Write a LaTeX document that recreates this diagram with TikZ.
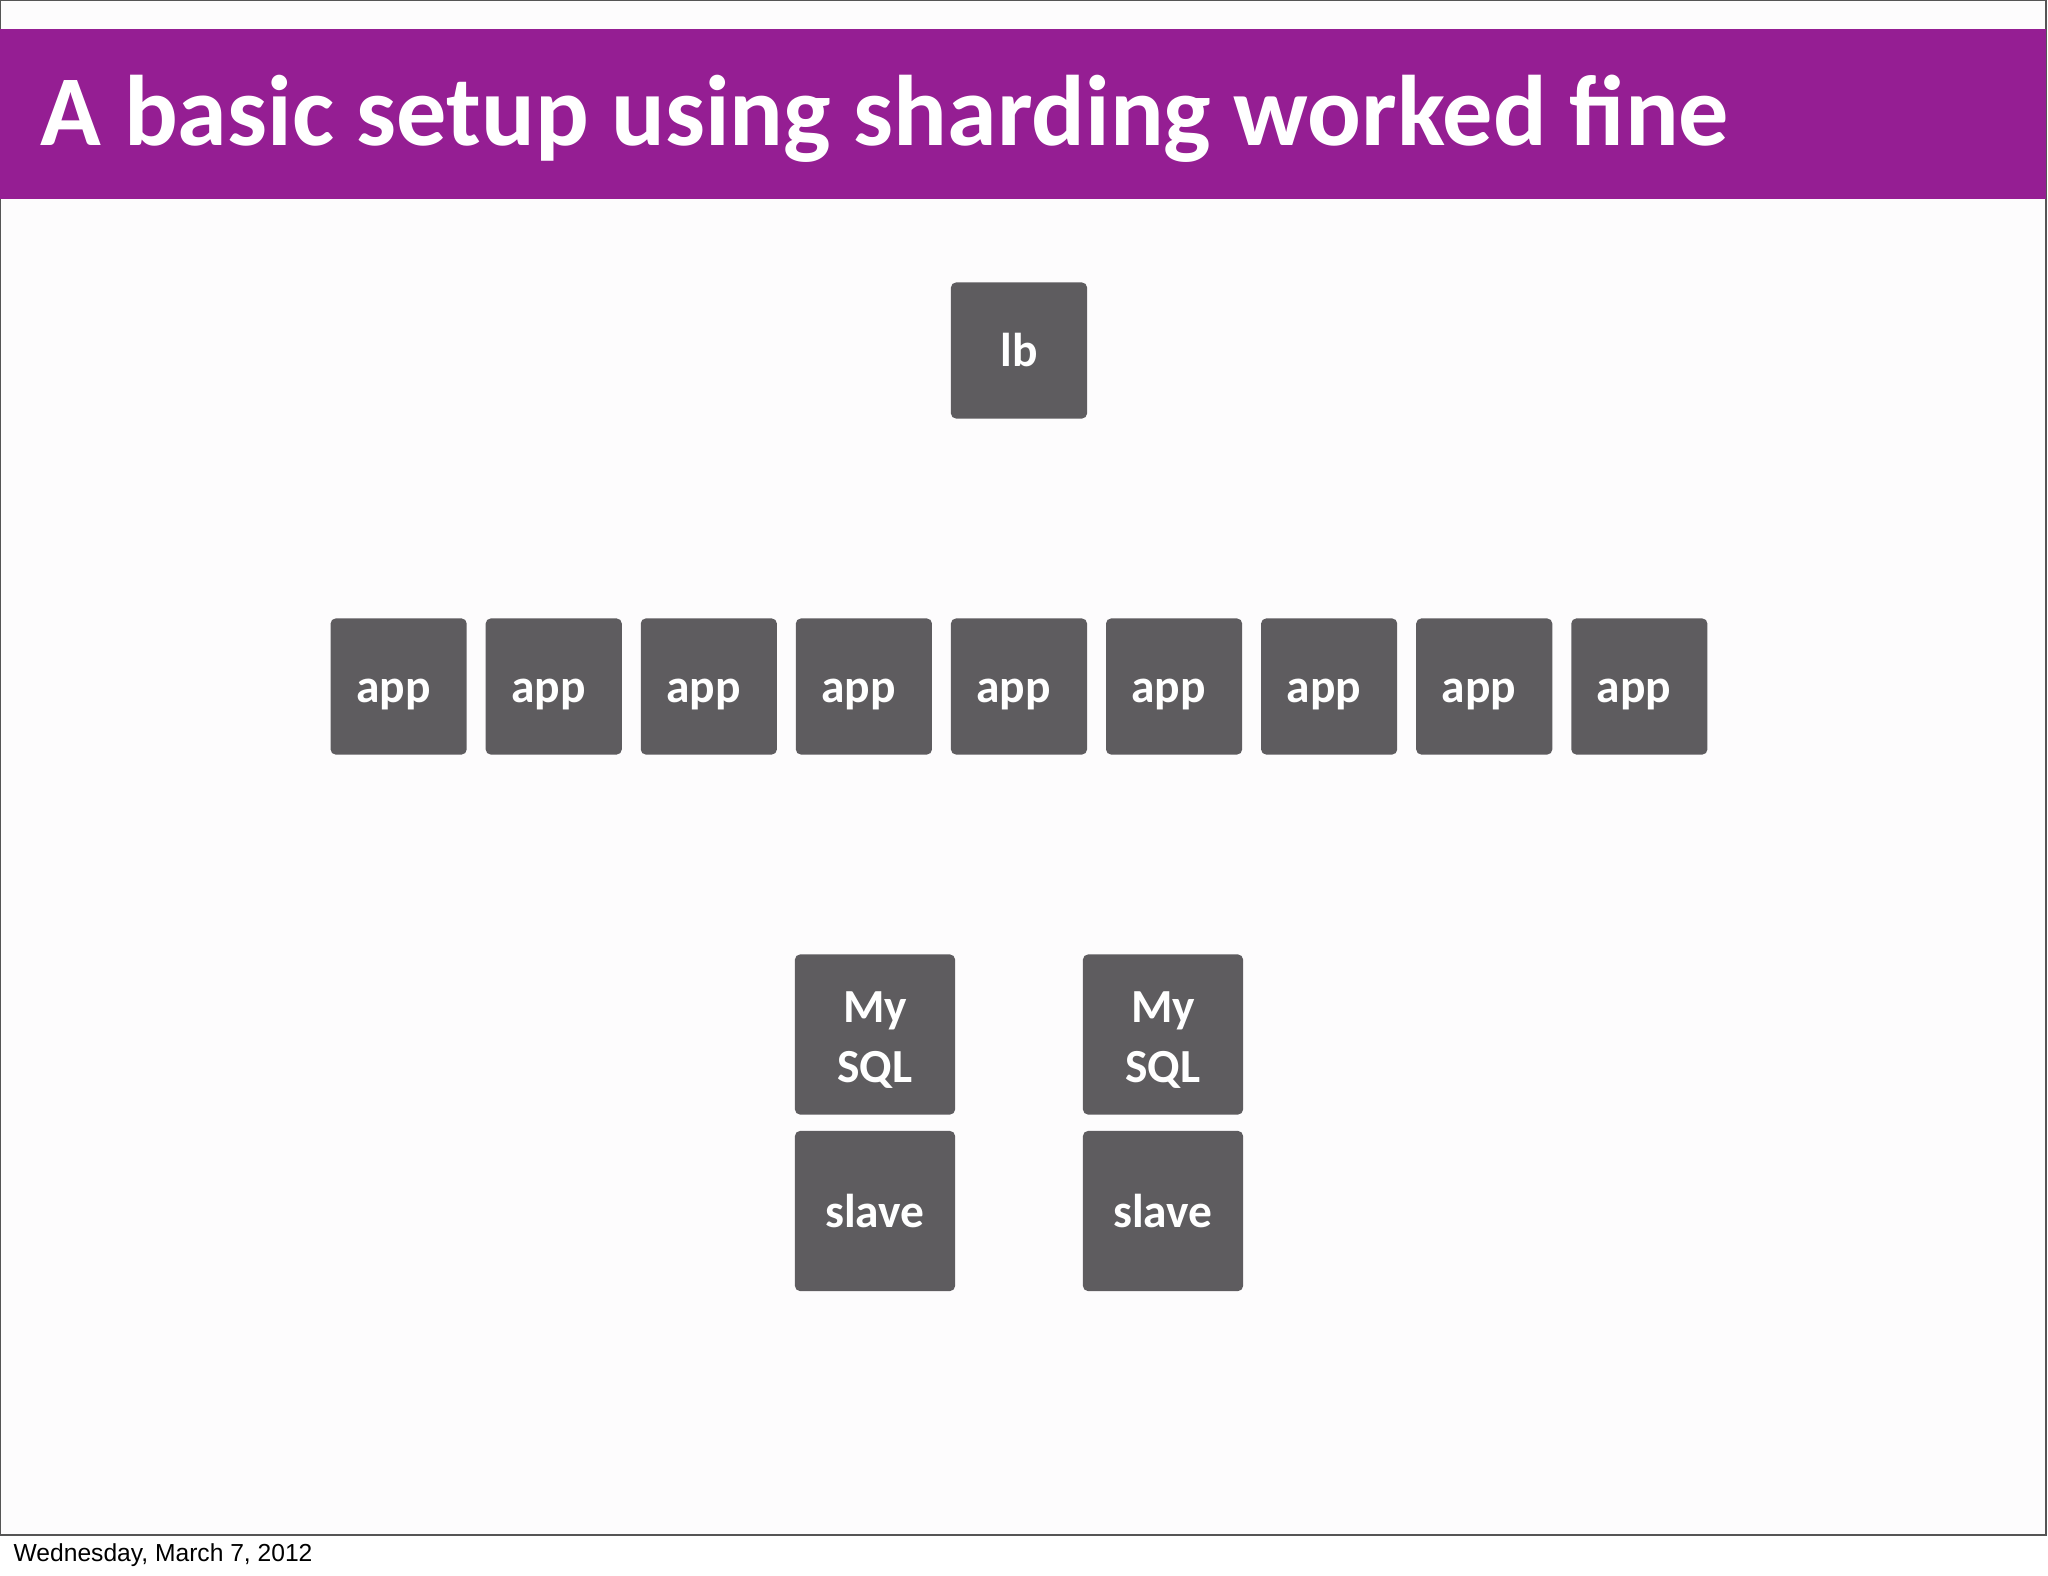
\documentclass[tikz,border=0pt]{standalone}
\usepackage{fontspec}
\setmainfont{Carlito}
\newfontfamily\footfont{Liberation Sans}
\usetikzlibrary{matrix}
\definecolor{banner}{HTML}{951E93}
\definecolor{boxgray}{HTML}{5E5C5F}
\definecolor{slidebg}{HTML}{FDFCFD}
\definecolor{framegray}{HTML}{555555}
\tikzset{box/.style={fill=boxgray, rounded corners=0.05cm, text=white, inner sep=0pt, align=center,
  font=\bfseries\fontsize{13.5pt}{16.8pt}\selectfont, minimum size=1.36cm, text height=0.32cm, text depth=0cm},
  dbbox/.style={box, minimum size=1.6cm, text height=0.95cm}}

\begin{document}
\begin{tikzpicture}[x=0.01cm, y=-0.01cm]
\useasboundingbox (0,0) rectangle (2048,1576);
% slide and title band
\draw[framegray, fill=slidebg, line width=0.8pt] (0,0) rectangle (2046,1535);
\fill[banner] (0,29) rectangle (2046,199);
\node[anchor=base west, inner sep=0pt, text=white, font=\bfseries\fontsize{28.5pt}{30pt}\selectfont] (title) at (40,146) {A basic setup using sharding worked fine};
% load balancer
\node[box] (lb) at (1019,350.5) {lb};
% app servers
\matrix (m) at (1019,686.5) [matrix of nodes, nodes={box}, column sep=0.19cm]{
app & app & app & app & app & app & app & app & app \\
};
% database shards
\node[dbbox] (db1) at (875,1034.5) {My\\SQL};
\node[box, minimum size=1.6cm] (sl1) at (875,1211) {slave};
\node[dbbox] (db2) at (1163,1034.5) {My\\SQL};
\node[box, minimum size=1.6cm] (sl2) at (1163,1211) {slave};
% footer
\node[anchor=base west, inner sep=0pt, font=\footfont\fontsize{7pt}{8pt}\selectfont] (date) at (13,1561) {Wednesday, March 7, 2012};
\end{tikzpicture}
\end{document}
